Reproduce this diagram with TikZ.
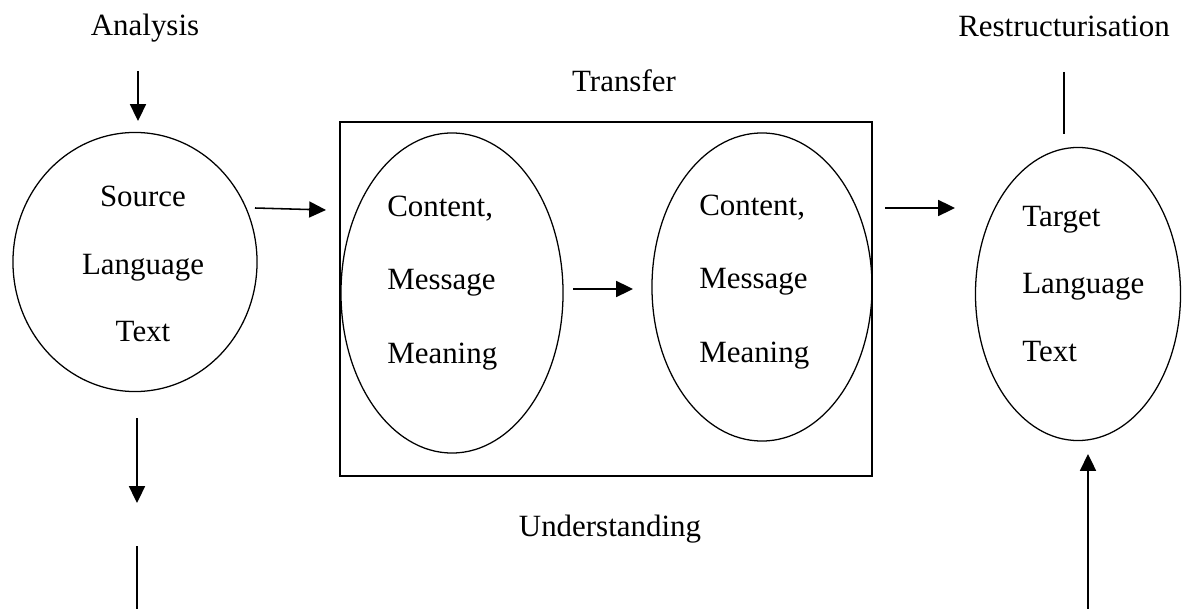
\documentclass[tikz,border=0pt]{standalone}
\usepackage{fontspec}
\setmainfont{Liberation Serif}
\usetikzlibrary{arrows.meta,shapes.geometric}

\tikzset{
  bubble/.style={draw, ellipse, line width=0.9pt, inner sep=0pt},
  arr/.style={line width=1.1pt, -{Triangle[length=0.42cm,width=0.4cm]}},
  lbl/.style={font=\fontsize{22}{26}\selectfont, inner sep=0pt, anchor=base},
  stack/.style={font=\fontsize{22}{48}\selectfont, align=#1, inner sep=0pt},
  widestack/.style={font=\fontsize{22}{52}\selectfont, align=left, inner sep=0pt, anchor=west},
}

\begin{document}
\begin{tikzpicture}[x=0.025cm, y=-0.025cm]

    \useasboundingbox (0,0) rectangle (1187,609);

    % Labels of the three stages
    \node[lbl] (analysis) at (145,36) {Analysis};
    \node[lbl] (transfer) at (624,92) {Transfer};
    \node[lbl] (restruct) at (1064,37) {Restructurisation};
    \node[lbl] (understanding) at (610,536) {Understanding};

    % Source and target ellipses
    \node[bubble, minimum width=6.1cm, minimum height=6.475cm] (src) at (135,262) {};
    \node[bubble, minimum width=5.125cm, minimum height=7.325cm] (tgt) at (1078,294) {};

    % Box with the two inner ellipses
    \node[draw, line width=1.1pt, minimum width=13.3cm, minimum height=8.85cm, inner sep=0pt] (box) at (606,299) {};
    \node[bubble, minimum width=5.55cm, minimum height=8cm] (cm1) at (452,293) {};
    \node[bubble, minimum width=5.5cm, minimum height=7.7cm] (cm2) at (762,287) {};

    % Texts inside the ellipses
    \node[stack=center] (srctext) at (143,264) {Source\\Language\\Text};
    \node[stack=left, anchor=west] (tgttext) at (1022,284) {Target\\Language\\Text};
    \node[widestack] (cm1text) at (387,283) {Content,\\Message\\Meaning};
    \node[widestack] (cm2text) at (699,282) {Content,\\Message\\Meaning};

    % End points of the connectors
    \coordinate (a1) at (138,71);
    \coordinate (a2) at (138,121);
    \coordinate (b1) at (255,208);
    \coordinate (b2) at (326,210);
    \coordinate (c1) at (573,289);
    \coordinate (c2) at (633,289);
    \coordinate (d1) at (885,208);
    \coordinate (d2) at (955,208);
    \coordinate (e1) at (137,418);
    \coordinate (e2) at (137,503);
    \coordinate (f1) at (137,546);
    \coordinate (f2) at (137,609);
    \coordinate (g1) at (1088,609);
    \coordinate (g2) at (1088,454);
    \coordinate (h1) at (1064,72);
    \coordinate (h2) at (1064,134);

    % Draw the connectors
    \draw[arr] (a1) -- (a2);
    \draw[arr] (b1) -- (b2);
    \draw[arr] (c1) -- (c2);
    \draw[arr] (d1) -- (d2);
    \draw[arr] (e1) -- (e2);
    \draw[line width=1.1pt] (f1) -- (f2);
    \draw[arr] (g1) -- (g2);
    \draw[line width=1.1pt] (h1) -- (h2);

\end{tikzpicture}
\end{document}
